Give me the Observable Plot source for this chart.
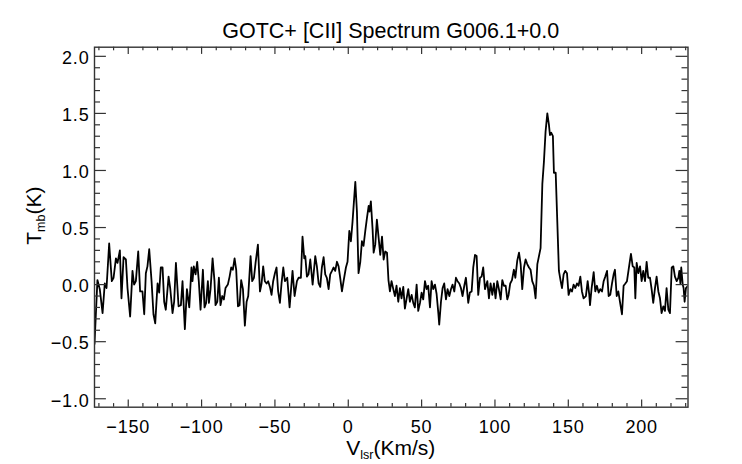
<!DOCTYPE html>
<html><head><meta charset="utf-8">
<script src="https://cdn.jsdelivr.net/npm/d3@7"></script>
<script src="https://cdn.jsdelivr.net/npm/@observablehq/plot@0.6"></script>
<style>body{margin:0;background:#fff;} svg{display:block;}</style>
</head><body><div id="chart"></div>
<script>
const velocity = [
-173,-171.0,-169.4,-167.5,-166.0,-164.8,-163.0,-161.2,-160.0,-158.4,-157.3,-155.7,-154.6,-153.2,-151.6,-150.5,-148.7,-147.1,-146.0,-144.8,
-143.2,-141.9,-140.3,-139.1,-138.0,-136.9,-135.7,-134.1,-132.8,-131.6,-130.0,-128.9,-127.8,-126.6,-125.5,-124.4,-122.5,-121.4,-119.8,-118.7,
-117.5,-115.7,-114.1,-113.0,-111.4,-110.0,-108.4,-106.9,-106.2,-105.3,-104.1,-103.0,-101.9,-100.7,-99.1,-98.0,-96.9,-95.7,-95.0,-93.9,
-92.5,-91.2,-90.5,-89.3,-88.2,-87.1,-85.9,-84.8,-83.7,-82.1,-80.9,-79.8,-78.7,-77.5,-76.4,-75.2,-74.1,-73.0,-71.8,-70.5,
-69.3,-68.2,-66.6,-65.5,-64.3,-63.2,-61.6,-60.2,-59.1,-58.0,-56.9,-55.7,-54.6,-53.4,-52.3,-51.2,-50.0,-48.9,-47.8,-46.6,
-45.5,-44.3,-43.2,-41.6,-40.0,-38.0,-36.6,-35.0,-33.9,-32.3,-31.2,-30.0,-29.3,-28.2,-27.1,-25.9,-24.3,-22.5,-21.4,-20.2,
-19.1,-18.0,-16.8,-15.7,-14.6,-13.4,-12.3,-11.1,-10.0,-8.9,-7.7,-6.6,-5.5,-4.3,-3.2,-1.6,-0.5,0.7,1.8,2.9,
4.8,5.9,7.0,8.2,9.3,10.4,11.6,12.7,13.9,14.5,15.4,16.6,17.3,18.4,19.5,20.7,21.8,23.0,24.1,25.2,
26.4,27.4,28.4,29.5,30.7,31.8,32.9,34.1,35.2,36.3,37.5,38.6,39.8,40.9,42.0,43.2,44.3,45.4,46.6,47.7,
48.9,50.0,51.1,52.3,53.4,54.5,55.7,56.8,57.9,59.1,60.2,61.4,62.0,63.2,64.3,65.4,66.6,67.7,68.9,70.0,
71.1,72.3,73.4,74.5,75.7,76.8,77.9,79.1,80.2,81.8,82.9,84.1,85.2,86.4,87.5,88.6,89.8,90.9,92.0,93.2,
94.8,95.9,97.0,98.2,99.3,100.4,101.6,102.7,103.9,105.0,106.1,107.3,108.4,109.3,110.4,111.6,112.9,113.9,115.2,116.4,
117.5,118.6,119.8,120.9,122.0,123.2,124.3,125.4,126.6,127.7,128.9,130.0,131.1,132.3,133.4,134.5,135.7,136.8,137.5,138.4,
139.5,140.2,141.4,142.5,143.6,144.8,145.7,146.8,147.9,149.1,150.2,151.4,152.5,153.6,154.8,155.9,157.0,158.2,159.3,160.4,
162.0,163.2,164.3,164.8,165.9,167.3,168.4,169.5,170.7,171.8,173.0,174.1,175.2,176.4,177.5,178.6,179.8,180.9,181.8,183.0,
184.1,185.2,186.6,187.7,188.9,190.0,191.1,192.7,193.9,195.0,195.7,196.6,197.7,198.9,200.0,201.1,202.3,203.4,204.5,205.7,
206.8,207.9,209.1,210.2,211.4,212.5,213.6,214.8,215.9,217.0,218.2,219.3,220.5,221.6,222.7,223.9,225.0,225.7,226.4,227.0,
228.0,228.6,229.3,230.2,231.6
];
const tmb = [
-0.52,0.04,-0.04,-0.25,0.01,-0.03,0.36,0.03,0.06,0.23,0.19,0.30,-0.12,0.24,0.22,-0.03,-0.28,0.12,0.00,0.03,
0.29,-0.06,-0.06,-0.26,0.10,0.16,0.31,0.03,-0.26,-0.34,0.01,-0.07,0.15,0.15,-0.15,-0.22,0.07,-0.03,-0.25,-0.15,
0.19,-0.19,-0.18,0.03,-0.39,-0.04,-0.20,0.15,0.03,0.16,0.09,0.20,0.03,-0.22,0.13,-0.20,-0.16,0.03,-0.16,-0.04,
0.23,0.03,-0.18,-0.15,0.06,-0.18,-0.10,-0.13,-0.03,0.00,0.07,0.15,0.13,0.23,0.13,-0.19,-0.18,0.04,-0.04,-0.36,
-0.15,-0.10,0.25,0.03,0.06,0.19,0.35,-0.06,0.01,0.16,0.03,0.01,0.03,-0.02,-0.09,0.03,0.10,0.15,-0.06,-0.16,
0.01,0.15,0.03,0.06,-0.20,0.12,-0.10,0.03,0.06,0.06,0.42,0.23,0.25,0.07,0.09,0.22,0.00,0.25,0.16,0.01,
-0.02,0.15,0.24,0.09,0.06,-0.04,0.09,0.12,0.15,0.12,0.20,0.16,0.06,-0.06,0.03,0.15,0.20,0.47,0.38,0.55,
0.90,0.64,0.10,0.20,0.38,0.34,0.47,0.58,0.69,0.64,0.73,0.48,0.28,0.35,0.57,0.41,0.26,0.42,0.22,0.29,
0.28,0.04,-0.06,0.03,-0.04,-0.10,-0.01,-0.15,-0.03,-0.12,-0.02,-0.21,-0.12,-0.04,-0.15,-0.09,-0.16,-0.20,0.00,-0.23,
-0.16,-0.07,-0.13,0.03,-0.04,-0.01,-0.20,0.03,-0.04,0.00,-0.08,-0.25,-0.35,-0.15,-0.03,0.01,-0.13,-0.04,-0.10,-0.04,
0.00,-0.06,0.06,0.03,0.01,-0.03,-0.10,-0.01,0.06,-0.16,-0.07,-0.06,0.15,0.26,0.25,-0.09,0.06,0.07,0.15,-0.04,
0.03,-0.12,0.01,-0.09,0.01,-0.12,0.03,-0.04,-0.13,0.04,-0.01,-0.01,-0.13,-0.09,0.01,0.04,0.13,0.06,0.21,0.28,
0.18,-0.04,0.15,0.22,0.18,0.15,0.13,0.03,-0.01,-0.12,0.18,0.25,0.32,0.88,1.08,1.34,1.50,1.40,1.31,1.33,
1.30,0.98,0.98,0.55,0.12,0.03,-0.03,0.09,0.12,0.10,-0.09,-0.04,-0.06,0.00,-0.03,0.01,-0.01,0.07,-0.06,-0.12,
-0.10,0.03,-0.09,-0.18,-0.03,0.11,-0.06,-0.01,-0.07,-0.04,-0.06,0.03,0.07,0.12,-0.10,-0.09,0.01,0.09,0.13,-0.10,
-0.06,-0.15,-0.26,-0.01,0.01,0.03,0.13,0.27,0.16,0.15,-0.12,0.19,0.10,0.16,0.03,0.12,0.03,0.20,0.06,0.06,
-0.04,-0.16,-0.03,0.07,-0.06,-0.12,-0.25,-0.19,-0.23,-0.03,-0.22,-0.25,0.15,0.16,0.07,0.03,0.06,0.12,0.01,0.15,
0.00,-0.03,-0.15,-0.03,-0.01
];
const xTicks = [-150,-100,-50,0,50,100,150,200];
const xMinorTicks = [-170,-160,-140,-130,-120,-110,-90,-80,-70,-60,-40,-30,-20,-10,10,20,30,40,60,70,80,90,110,120,130,140,160,170,180,190,210,220,230];
const yTicks = [-1.0,-0.5,0.0,0.5,1.0,1.5,2.0];
const yMinorTicks = [-0.9,-0.8,-0.7,-0.6,-0.4,-0.3,-0.2,-0.1,0.1,0.2,0.3,0.4,0.6,0.7,0.8,0.9,1.1,1.2,1.3,1.4,1.6,1.7,1.8,1.9];
const xDomain = [-173, 231.6];
const yDomain = [-1.074, 2.08];
const titleText = "GOTC+ [CII] Spectrum G006.1+0.0";
const xLabelParts = ["V", "lsr", "(Km/s)"];
const yLabelParts = ["T", "mb", "(K)"];

const W = 742, H = 464, mL = 94, mR = 54.5, mT = 46.7, mB = 57.3;
const plotW = W - mL - mR, plotH = H - mT - mB;
const data = velocity.map((v, i) => ({v, t: tmb[i]}));
const axisColor = "#333";
const font = "'Liberation Sans', Arial, Helvetica, sans-serif";

const chart = Plot.plot({
  width: W, height: H,
  marginLeft: mL, marginRight: mR, marginTop: mT, marginBottom: mB,
  style: {fontFamily: font, color: "#000", background: "#fff"},
  x: {domain: xDomain, label: null},
  y: {domain: yDomain, label: null},
  marks: [
    Plot.line(data, {x: "v", y: "t", stroke: "#000", strokeWidth: 1.8, clip: true}),
    Plot.ruleX(xTicks, {x: d => d, insetTop: plotH - 7.2, stroke: axisColor, strokeWidth: 1.2}),
    Plot.ruleX(xTicks, {x: d => d, insetBottom: plotH - 7.2, stroke: axisColor, strokeWidth: 1.2}),
    Plot.ruleX(xMinorTicks, {x: d => d, insetTop: plotH - 3.6, stroke: axisColor, strokeWidth: 1.2}),
    Plot.ruleX(xMinorTicks, {x: d => d, insetBottom: plotH - 3.6, stroke: axisColor, strokeWidth: 1.2}),
    Plot.ruleY(yTicks, {y: d => d, insetRight: plotW - 11.9, stroke: axisColor, strokeWidth: 1.2}),
    Plot.ruleY(yTicks, {y: d => d, insetLeft: plotW - 11.9, stroke: axisColor, strokeWidth: 1.2}),
    Plot.ruleY(yMinorTicks, {y: d => d, insetRight: plotW - 6, stroke: axisColor, strokeWidth: 1.2}),
    Plot.ruleY(yMinorTicks, {y: d => d, insetLeft: plotW - 6, stroke: axisColor, strokeWidth: 1.2}),
    Plot.frame({stroke: axisColor, strokeWidth: 1.4}),
    Plot.axisX({ticks: xTicks, tickSize: 0, tickPadding: 13, tickFormat: d3.format("d"), fontSize: 18, label: null}),
    Plot.axisY({ticks: yTicks, tickSize: 0, tickPadding: 5, tickFormat: d3.format(".1f"), fontSize: 18, label: null, dy: 2})
  ]
});
document.getElementById("chart").appendChild(chart);

const svg = d3.select(chart);
svg.selectAll('g[aria-label="x-axis tick label"], g[aria-label="y-axis tick label"]')
  .attr("letter-spacing", "0.8px");

svg.append("text")
  .attr("x", mL + plotW / 2).attr("y", mT - 8.4)
  .attr("text-anchor", "middle").attr("font-size", 21.5).attr("font-family", font).attr("fill", "#000")
  .text(titleText);

const xl = svg.append("text")
  .attr("x", mL + plotW / 2).attr("y", H - 9)
  .attr("text-anchor", "middle").attr("font-size", 21).attr("font-family", font).attr("fill", "#000");
xl.append("tspan").text(xLabelParts[0]);
xl.append("tspan").attr("font-size", 12.5).attr("dy", 4).text(xLabelParts[1]);
xl.append("tspan").attr("dy", -4).text(xLabelParts[2]);

const yl = svg.append("text")
  .attr("transform", `translate(40.5,${mT + plotH / 2 - 11}) rotate(-90)`)
  .attr("text-anchor", "middle").attr("font-size", 21).attr("font-family", font).attr("fill", "#000");
yl.append("tspan").text(yLabelParts[0]);
yl.append("tspan").attr("font-size", 12.5).attr("dy", 4).text(yLabelParts[1]);
yl.append("tspan").attr("dy", -4).text(yLabelParts[2]);
</script>
</body></html>
